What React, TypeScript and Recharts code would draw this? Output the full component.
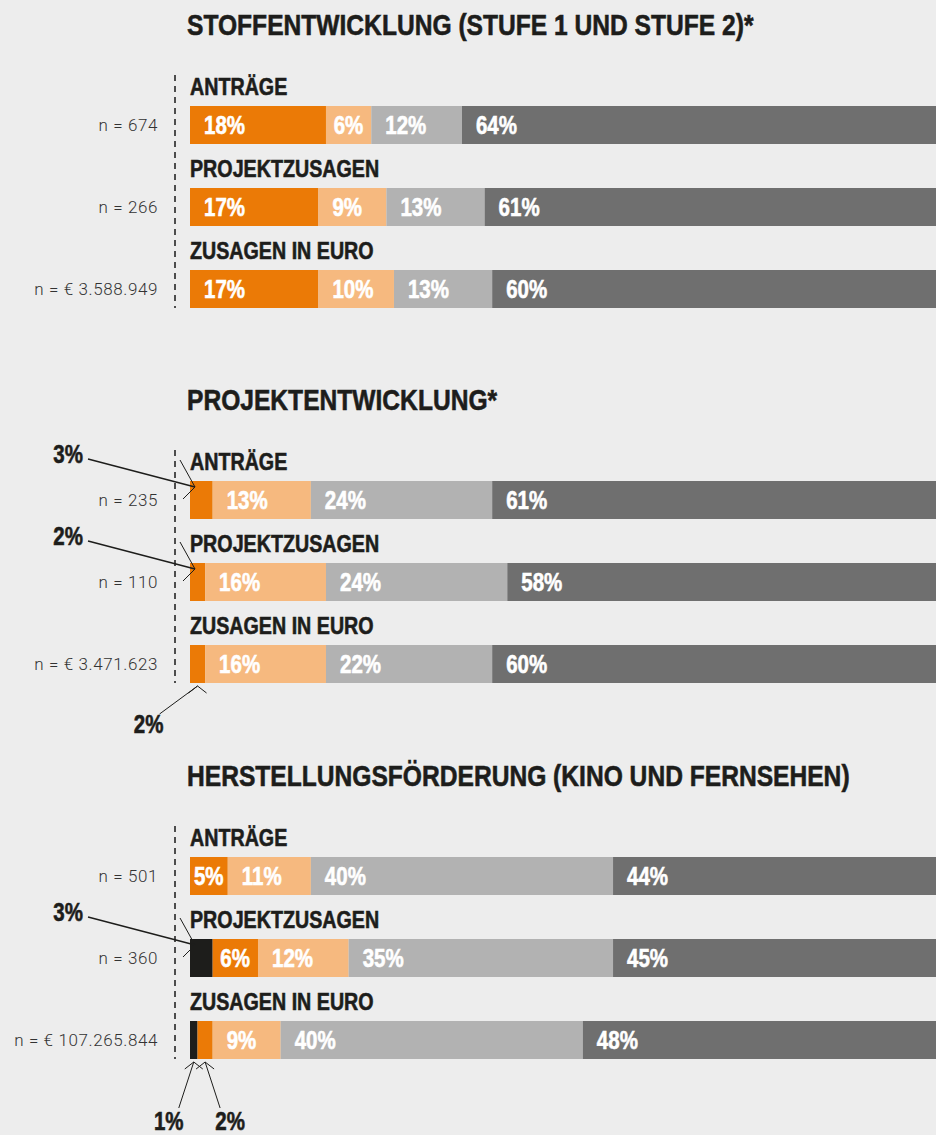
import React from "react";
import { Bar, BarChart, LabelList, XAxis, YAxis } from "recharts";

// row labels, repeated in every section
const ROWS = ["ANTRÄGE", "PROJEKTZUSAGEN", "ZUSAGEN IN EURO"];

const SECTION_TITLES = [
  "STOFFENTWICKLUNG (STUFE 1 UND STUFE 2)*",
  "PROJEKTENTWICKLUNG*",
  "HERSTELLUNGSFÖRDERUNG (KINO UND FERNSEHEN)",
];

// 9 rows: section 1 (3 rows), section 2 (3 rows), section 3 (3 rows)
const N_LABELS = [
  "n = 674",
  "n = 266",
  "n = € 3.588.949",
  "n = 235",
  "n = 110",
  "n = € 3.471.623",
  "n = 501",
  "n = 360",
  "n = € 107.265.844",
];

const BLACK = [0, 0, 0, 0, 0, 0, 0, 3, 1];
const ORANGE = [18, 17, 17, 3, 2, 2, 5, 6, 2];
const LIGHT_ORANGE = [6, 9, 10, 13, 16, 16, 11, 12, 9];
const LIGHT_GRAY = [12, 13, 13, 24, 24, 22, 40, 35, 40];
const DARK_GRAY = [64, 61, 60, 61, 58, 60, 44, 45, 48];

const SERIES = [
  { key: "black", values: BLACK, color: "#1d1d1b" },
  { key: "orange", values: ORANGE, color: "#eb7a06" },
  { key: "lightOrange", values: LIGHT_ORANGE, color: "#f6b97f" },
  { key: "lightGray", values: LIGHT_GRAY, color: "#b2b2b2" },
  { key: "darkGray", values: DARK_GRAY, color: "#6f6f6f" },
];

const BOLD = "'Liberation Sans', Arial, sans-serif";
const LIGHT = "Roboto, 'Liberation Sans', sans-serif";
const INK = "#1d1d1b";
const NARROW = 0.82;

const ROW_STEP = 82;
const BAR_H = 38;
const PLOT_TOP = 84;
const PLOT_LEFT = 190;

function sectionData(s: number) {
  return ROWS.map((row, r) => {
    const i = s * ROWS.length + r;
    const d: any = { row, n: N_LABELS[i] };
    SERIES.forEach((ser) => (d[ser.key] = ser.values[i]));
    return d;
  });
}

// bold condensed look: Liberation Sans Bold squeezed horizontally
function Narrow({ x, y, size, fill = INK, anchor = "start", children }: any) {
  return (
    <text
      transform={`translate(${x},${y}) scale(${NARROW},1)`}
      textAnchor={anchor}
      fontFamily={BOLD}
      fontWeight={700}
      fontSize={size}
      fill={fill}
      stroke={fill}
      strokeWidth={0.6}
    >
      {children}
    </text>
  );
}

function RowTick(props: any) {
  const { y, payload, index, data, title } = props;
  const cy = Number(y);
  const d = data.find((x: any) => x.row === payload.value);
  return (
    <g>
      {index === 0 && (
        <>
          <Narrow x={187} y={cy - 90} size={30}>
            {title}
          </Narrow>
          <line
            x1={175}
            x2={175}
            y1={cy - 50}
            y2={cy + 2 * ROW_STEP + BAR_H / 2}
            stroke="#4d4d4d"
            strokeWidth={2}
            strokeDasharray="6 5"
          />
        </>
      )}
      <Narrow x={PLOT_LEFT} y={cy - 30} size={24}>
        {payload.value}
      </Narrow>
      <text
        x={158}
        y={cy + 6}
        textAnchor="end"
        fontFamily={LIGHT}
        fontWeight={300}
        fontSize={17}
        letterSpacing={0.6}
        fill="#333"
      >
        {d ? d.n : ""}
      </text>
    </g>
  );
}

function segmentLabel(key: string, data: any[]) {
  return (props: any) => {
    const vb = props.viewBox || props;
    const x = Number(vb.x);
    const y = Number(vb.y);
    const w = Number(vb.width);
    const h = Number(vb.height);
    const value = Number(props.value);
    if (!value || !isFinite(x)) return null;
    const cy = y + h / 2;
    if (value >= 4) {
      const tw = value < 10 ? 30 : 42;
      const pad = Math.min(14, Math.max(2, (w - tw) / 2));
      return (
        <Narrow x={x + pad} y={cy + 9} size={25} fill="#fff">
          {value}%
        </Narrow>
      );
    }
    // small segment: callout; find the row from its position
    const rowIdx = Math.round((cy - PLOT_TOP - ROW_STEP / 2) / ROW_STEP);
    const row = data[rowIdx];
    const small = SERIES.map((s) => s.key).filter((k) => row[k] > 0 && row[k] < 4);
    const k = small.indexOf(key);
    const isLast = rowIdx === data.length - 1;
    if (!isLast) {
      const vx = x + 5;
      const vy = y + 6;
      return (
        <g>
          <Narrow x={x - 107} y={cy - 37} size={25} anchor="end">
            {value}%
          </Narrow>
          <line x1={x - 102} y1={cy - 41} x2={vx} y2={vy} stroke={INK} strokeWidth={1.4} />
          <polyline
            points={`${vx - 15},${vy - 27} ${vx},${vy} ${vx - 12},${vy + 12}`}
            fill="none"
            stroke={INK}
            strokeWidth={1}
          />
        </g>
      );
    }
    const vx = x + w / 2;
    const vy = y + h + 3;
    let lx: number, ly: number, tx: number, ty: number;
    if (small.length > 1) {
      const dir = k === 0 ? -1 : 1;
      lx = vx + dir * 15;
      ly = vy + 46;
      tx = vx + dir * 25;
      ty = vy + 68;
    } else {
      lx = vx - 38;
      ly = vy + 28;
      tx = vx - 49;
      ty = vy + 47;
    }
    return (
      <g>
        <Narrow x={tx} y={ty} size={25} anchor="middle">
          {value}%
        </Narrow>
        <line x1={lx} y1={ly} x2={vx} y2={vy} stroke={INK} strokeWidth={1} />
        <polyline
          points={`${vx - 9},${vy + 7} ${vx},${vy} ${vx + 9},${vy + 7}`}
          fill="none"
          stroke={INK}
          strokeWidth={1}
        />
      </g>
    );
  };
}

function Section({ s, top, height }: { s: number; top: number; height: number }) {
  const data = sectionData(s);
  return (
    <div style={{ position: "absolute", left: 0, top }}>
      <BarChart
        width={960}
        height={height}
        data={data}
        layout="vertical"
        barSize={BAR_H}
        margin={{ top: PLOT_TOP, right: 7, bottom: height - PLOT_TOP - 3 * ROW_STEP, left: 0 }}
      >
        <XAxis type="number" domain={[0, 101]} hide />
        <YAxis
          type="category"
          dataKey="row"
          width={PLOT_LEFT}
          axisLine={false}
          tickLine={false}
          interval={0}
          tick={(p: any) => <RowTick {...p} data={data} title={SECTION_TITLES[s]} />}
        />
        {SERIES.map((ser) => (
          <Bar key={ser.key} dataKey={ser.key} stackId="a" fill={ser.color} isAnimationActive={false}>
            <LabelList dataKey={ser.key} content={segmentLabel(ser.key, data)} />
          </Bar>
        ))}
      </BarChart>
    </div>
  );
}

export default function App() {
  return (
    <div
      style={{
        position: "absolute",
        left: 0,
        top: 0,
        width: 936,
        height: 1135,
        overflow: "hidden",
        background: "#ededed",
      }}
    >
      <Section s={0} top={0} height={376} />
      <Section s={1} top={375} height={376} />
      <Section s={2} top={751} height={384} />
    </div>
  );
}
